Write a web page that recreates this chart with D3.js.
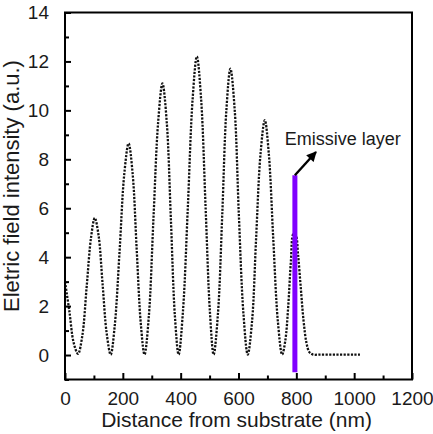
<!DOCTYPE html>
<html>
<head>
<meta charset="utf-8">
<script src="https://cdn.jsdelivr.net/npm/d3@7"></script>
<style>
  html, body { margin: 0; padding: 0; background: #fff; }
  svg { display: block; }
  text { font-family: Arial, "Liberation Sans", Helvetica, sans-serif; fill: #1a1a1a; }
</style>
</head>
<body>
<svg id="chart" width="433" height="434"></svg>
<script>
// ---- data ----
const distance = [0, 15, 30, 45, 60, 75, 90, 103, 116, 130, 144, 158,
  172, 189, 205, 220, 234, 248, 262, 275,
  290, 306, 322, 337, 352, 366, 380, 393,
  408, 425, 441, 456, 471, 486, 501, 514,
  529, 544, 558, 572, 587, 601, 617, 632,
  647, 661, 676, 691, 705, 720, 736, 751,
  762, 772, 781, 790, 798, 806, 815, 825, 835, 845, 858,
  880, 910, 940, 970, 1000, 1020];
const intensity = [3.0, 1.8, 0.5, 0.05, 0.8, 2.8, 4.8, 5.6, 4.9, 2.9, 0.9, 0.02,
  1.2, 4.3, 7.4, 8.65, 7.4, 4.3, 1.3, 0.02,
  1.6, 5.6, 9.5, 11.1, 9.5, 5.6, 1.6, 0.02,
  1.8, 6.1, 10.4, 12.2, 10.4, 6.1, 1.8, 0.02,
  1.7, 5.8, 10.0, 11.7, 10.0, 5.8, 1.7, 0.02,
  1.4, 4.8, 8.2, 9.6, 8.2, 4.8, 1.4, 0.02,
  0.6, 2.0, 3.8, 4.95, 4.9, 4.1, 2.8, 1.4, 0.5, 0.12, 0.02,
  0.02, 0.02, 0.02, 0.02, 0.02, 0.02];
const emissiveX = 795;
const emissiveY = [-0.7, 7.35];
const arrowTip = [868, 8.3];
const annotationText = "Emissive layer";
const annotationPos = [760, 8.6];
const xTickLabels = [0, 200, 400, 600, 800, 1000, 1200];
const xMinorTicks = [100, 300, 500, 700, 900, 1100];
const yTickLabels = [0, 2, 4, 6, 8, 10, 12, 14];
const yMinorTicks = [-1, 1, 3, 5, 7, 9, 11, 13];
const xTitle = "Distance from substrate (nm)";
const yTitle = "Eletric field intensity (a.u.)";

// ---- layout ----
const svg = d3.select("#chart");
const L = 65, R = 412, T = 12.5, B = 379.5;
const x = d3.scaleLinear().domain([0, 1200]).range([L, R]);
const y = d3.scaleLinear().domain([-1, 14]).range([B, T]);

// data line
const pts = distance.map((d, i) => [d, intensity[i]]);
svg.append("path")
  .datum(pts)
  .attr("fill", "none")
  .attr("stroke", "#111")
  .attr("stroke-width", 2.3)
  .attr("stroke-dasharray", "2.2,1.4")
  .attr("d", d3.line().x(d => x(d[0])).y(d => y(d[1])).curve(d3.curveCatmullRom.alpha(0.5)));

// emissive layer bar
svg.append("line")
  .attr("x1", x(emissiveX)).attr("x2", x(emissiveX))
  .attr("y1", y(emissiveY[0])).attr("y2", y(emissiveY[1]))
  .attr("stroke", "#8000ff").attr("stroke-width", 5);

// arrow
svg.append("defs").append("marker")
  .attr("id", "ah").attr("viewBox", "0 0 10 10")
  .attr("refX", 9).attr("refY", 5)
  .attr("markerWidth", 5).attr("markerHeight", 4.2)
  .attr("markerUnits", "strokeWidth")
  .attr("orient", "auto")
  .append("path").attr("d", "M0,0 L10,5 L0,10 Z").attr("fill", "#000");
svg.append("line")
  .attr("x1", x(emissiveX)).attr("y1", y(emissiveY[1]))
  .attr("x2", x(arrowTip[0])).attr("y2", y(arrowTip[1]))
  .attr("stroke", "#000").attr("stroke-width", 2.4)
  .attr("marker-end", "url(#ah)");

svg.append("text")
  .attr("x", x(annotationPos[0])).attr("y", y(annotationPos[1]))
  .attr("font-size", 18)
  .text(annotationText);

// axes with inward ticks
const xAxis = svg.append("g").attr("transform", `translate(0,${B})`)
  .call(d3.axisBottom(x).tickValues(xTickLabels).tickSizeInner(-6.5).tickSizeOuter(0).tickPadding(12).tickFormat(d3.format("d")));
const xMinor = svg.append("g").attr("transform", `translate(0,${B})`)
  .call(d3.axisBottom(x).tickValues(xMinorTicks).tickSizeInner(-4).tickSizeOuter(0).tickFormat(""));
const yAxis = svg.append("g").attr("transform", `translate(${L},0)`)
  .call(d3.axisLeft(y).tickValues(yTickLabels).tickSizeInner(-6).tickSizeOuter(0).tickPadding(16).tickFormat(d3.format("d")));
const yMinor = svg.append("g").attr("transform", `translate(${L},0)`)
  .call(d3.axisLeft(y).tickValues(yMinorTicks).tickSizeInner(-4).tickSizeOuter(0).tickFormat(""));

[xAxis, xMinor, yAxis, yMinor].forEach(g => {
  g.select(".domain").remove();
  g.selectAll(".tick line").attr("stroke", "#000").attr("stroke-width", 2);
  g.selectAll(".tick text").attr("font-size", 19).attr("fill", "#1a1a1a")
    .attr("font-family", 'Arial, "Liberation Sans", sans-serif');
});

// frame
svg.append("rect")
  .attr("x", L).attr("y", T).attr("width", R - L).attr("height", B - T)
  .attr("fill", "none").attr("stroke", "#000").attr("stroke-width", 2);

// titles
svg.append("text")
  .attr("x", (L + R) / 2 - 2).attr("y", 427)
  .attr("text-anchor", "middle").attr("font-size", 21)
  .text(xTitle);
svg.append("text")
  .attr("transform", `translate(19,${(T + B) / 2 - 10}) rotate(-90)`)
  .attr("text-anchor", "middle").attr("font-size", 22)
  .text(yTitle);
</script>
</body>
</html>
